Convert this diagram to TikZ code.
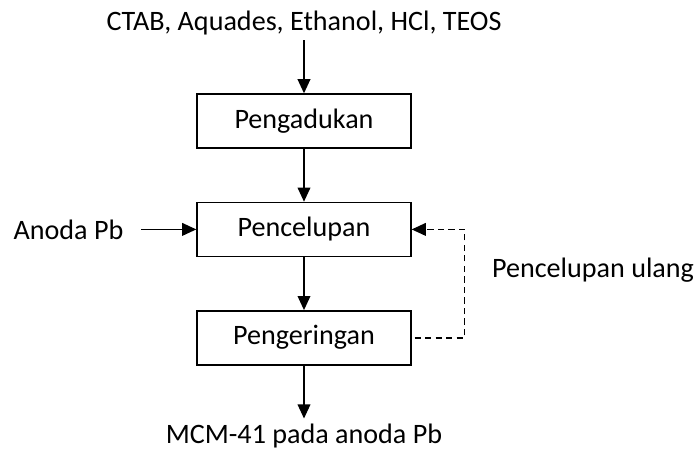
\documentclass[tikz,border=0pt]{standalone}
\usepackage{fontspec}
\setmainfont{Carlito}
\usepackage{tikz}
\usetikzlibrary{arrows.meta,positioning}
\tikzset{
    procbox/.style={rectangle,draw=black,line width=1pt,minimum width=5.35cm,minimum height=1.35cm,text height=1.25em,text depth=0.25em},
    arrow/.style={-{Triangle[length=10pt,width=9pt]},line width=1pt},
    backloop/.style={arrow,dash pattern=on 4.5pt off 3pt}
}

\begin{document}
\begin{tikzpicture}[node distance=1.325cm, every node/.style={font=\fontsize{20}{24}\selectfont}]

    % Frame
    \useasboundingbox (-7.6,3.025) rectangle (9.8,-8.375);

    % Nodes
    \node[procbox] (aduk) at (0,0) {Pengadukan};
    \node[procbox, below=of aduk] (celup) {Pencelupan};
    \node[procbox, below=of celup] (kering) {Pengeringan};

    \node[above=of aduk] (bahan) {CTAB, Aquades, Ethanol, HCl, TEOS};
    \node[left=1.7cm of celup] (anoda) {Anoda Pb};
    \node[below=of kering] (hasil) {MCM-41 pada anoda Pb};

    % Arrows
    \draw[arrow] (bahan.south) -- (aduk.north);
    \draw[arrow] (aduk.south) -- (celup.north);
    \draw[arrow] (celup.south) -- (kering.north);
    \draw[arrow] (kering.south) -- (hasil.north);
    \draw[arrow, shorten <=0.33cm] (anoda.east) -- (celup.west);
    \draw[backloop, shorten <=2pt] (kering.east) -- ++(1.325,0) coordinate (belok)
        |- node[pos=0.31, right=0.55cm, name=ulang] {Pencelupan ulang} (celup.east);

\end{tikzpicture}
\end{document}
